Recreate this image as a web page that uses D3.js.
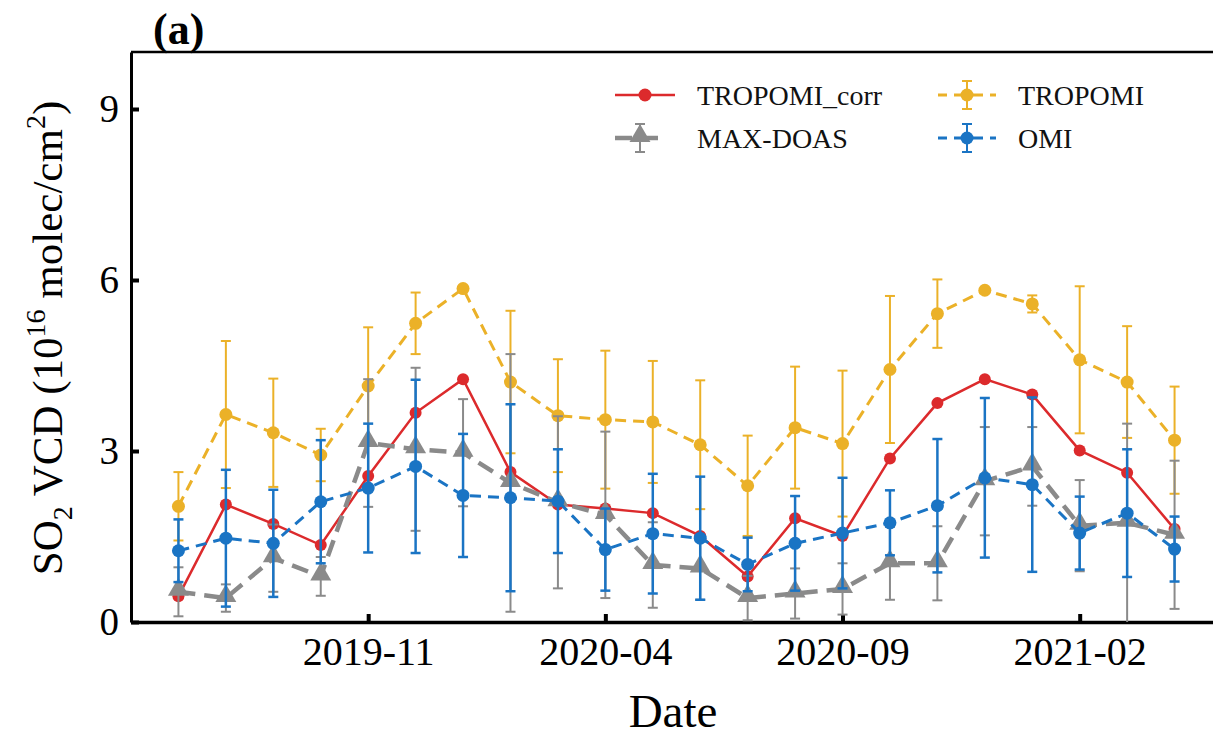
<!DOCTYPE html>
<html>
<head>
<meta charset="utf-8">
<script src="https://cdn.jsdelivr.net/npm/d3@7"></script>
<style>
  html, body { margin: 0; padding: 0; background: #fff; }
  svg { display: block; font-family: "Liberation Serif", "Times New Roman", serif; }
</style>
</head>
<body>
<svg id="chart" width="1213" height="744"></svg>
<script>
// ---------------- data ----------------
const months = ["2019-07","2019-08","2019-09","2019-10","2019-11","2019-12",
                "2020-01","2020-02","2020-03","2020-04","2020-05","2020-06",
                "2020-07","2020-08","2020-09","2020-10","2020-11","2020-12",
                "2021-01","2021-02","2021-03","2021-04"];
const xTickLabels = ["2019-11","2020-04","2020-09","2021-02"];
const yTickValues = [0, 3, 6, 9];

const tropomiCorr = [0.45,2.06,1.72,1.35,2.56,3.67,4.26,2.63,2.06,1.99,1.91,1.51,
                     0.80,1.82,1.51,2.87,3.84,4.26,3.99,3.01,2.62,1.63];

const tropomi     = [2.03,3.64,3.32,2.93,4.14,5.24,5.85,4.21,3.62,3.55,3.51,3.11,
                     2.39,3.41,3.13,4.43,5.41,5.82,5.58,4.60,4.21,3.19];
const tropomiErr  = [0.60,1.29,0.95,0.46,1.03,0.54,0.00,1.25,0.99,1.21,1.07,1.13,
                     0.88,1.07,1.28,1.29,0.60,0.00,0.15,1.29,0.98,0.94];

const maxdoas     = [0.53,0.42,1.12,0.80,3.14,3.03,2.97,2.44,2.10,1.88,1.00,0.94,
                     0.42,0.50,0.58,1.03,1.03,2.47,2.73,1.69,1.74,1.53];
const maxdoasErr  = [0.43,0.24,0.59,0.34,1.12,1.43,0.94,2.26,1.51,1.46,0.75,0.55,
                     0.39,0.44,0.45,0.64,0.65,0.95,0.69,0.80,1.74,1.30];

const omi         = [1.25,1.47,1.38,2.11,2.35,2.73,2.22,2.18,2.12,1.27,1.55,1.47,
                     1.01,1.38,1.56,1.74,2.04,2.53,2.41,1.56,1.91,1.28];
const omiErr      = [0.55,1.20,0.94,1.08,1.13,1.52,1.08,1.64,0.91,0.72,1.05,1.08,
                     0.47,0.83,0.97,0.57,1.17,1.40,1.53,0.64,1.12,0.57];

const seriesNames = ["TROPOMI_corr","TROPOMI","MAX-DOAS","OMI"];

// ---------------- styles ----------------
const RED = "#dc2a2c", YEL = "#ebb128", GRY = "#8a8a8a", BLU = "#1a74c4";

const svg = d3.select("#chart");
const plotLeft = 131, plotBottom = 622, plotTop = 52, plotRight = 1222;

const x = d3.scalePoint().domain(months).range([plotLeft, plotRight]).padding(1);
const y = d3.scaleLinear().domain([0, 10]).range([plotBottom, plotTop]);

// ---------------- frame & axes ----------------
svg.append("line").attr("x1", plotLeft).attr("x2", 1213).attr("y1", plotTop).attr("y2", plotTop)
   .attr("stroke", "#000").attr("stroke-width", 2.5);

const xAxis = d3.axisBottom(x).tickValues(xTickLabels).tickSizeInner(-8).tickSizeOuter(0).tickPadding(15);
const gx = svg.append("g").attr("transform", `translate(0,${plotBottom})`).call(xAxis);
gx.select(".domain").attr("stroke-width", 3.5);
gx.selectAll(".tick line").attr("stroke-width", 4);
gx.selectAll(".tick text").attr("font-size", 40).attr("font-family", "Liberation Serif").attr("fill", "#000");

const yAxis = d3.axisLeft(y).tickValues(yTickValues).tickSizeInner(-8).tickSizeOuter(0).tickPadding(12);
const gy = svg.append("g").attr("transform", `translate(${plotLeft},0)`).call(yAxis);
gy.select(".domain").attr("stroke-width", 3);
gy.selectAll(".tick line").attr("stroke-width", 4);
gy.selectAll(".tick text").attr("font-size", 39).attr("font-family", "Liberation Serif").attr("fill", "#000");

// ---------------- series drawing helpers ----------------
const line = d3.line().x((d, i) => x(months[i])).y(d => y(d));

function errorBars(vals, errs, color, width) {
  const g = svg.append("g").attr("stroke", color).attr("stroke-width", width);
  vals.forEach((v, i) => {
    if (!errs[i]) return;
    const cx = x(months[i]);
    const y1 = y(v + errs[i]), y0 = y(Math.max(v - errs[i], 0));
    g.append("line").attr("x1", cx).attr("x2", cx).attr("y1", y1).attr("y2", y0);
    g.append("line").attr("x1", cx - 5).attr("x2", cx + 5).attr("y1", y1).attr("y2", y1);
    if (v - errs[i] > 0)
      g.append("line").attr("x1", cx - 5).attr("x2", cx + 5).attr("y1", y0).attr("y2", y0);
  });
}
function circles(vals, color, r) {
  svg.append("g").selectAll("circle").data(vals).join("circle")
    .attr("cx", (d, i) => x(months[i])).attr("cy", d => y(d)).attr("r", r).attr("fill", color);
}
const tri = d3.symbol().type(d3.symbolTriangle).size(190);

// TROPOMI_corr (red, solid)
svg.append("path").datum(tropomiCorr).attr("d", line).attr("fill", "none")
   .attr("stroke", RED).attr("stroke-width", 2.5);
circles(tropomiCorr, RED, 6);

// TROPOMI (yellow, dashed)
errorBars(tropomi, tropomiErr, YEL, 2);
svg.append("path").datum(tropomi).attr("d", line).attr("fill", "none")
   .attr("stroke", YEL).attr("stroke-width", 3).attr("stroke-dasharray", "11,7");
circles(tropomi, YEL, 6.5);

// MAX-DOAS (gray, long dash, triangles)
errorBars(maxdoas, maxdoasErr, GRY, 2);
svg.append("path").datum(maxdoas).attr("d", line).attr("fill", "none")
   .attr("stroke", GRY).attr("stroke-width", 4.5).attr("stroke-dasharray", "17,9");
svg.append("g").selectAll("path").data(maxdoas).join("path")
   .attr("d", tri).attr("fill", GRY)
   .attr("transform", (d, i) => `translate(${x(months[i])},${y(d) - 2})`);

// OMI (blue, dashed)
errorBars(omi, omiErr, BLU, 2.5);
svg.append("path").datum(omi).attr("d", line).attr("fill", "none")
   .attr("stroke", BLU).attr("stroke-width", 3).attr("stroke-dasharray", "11,7");
circles(omi, BLU, 6.5);

// ---------------- legend ----------------
const legendItems = [
  { name: seriesNames[0], color: RED, x: 615, y: 95, dash: null, w: 2.5, err: false, shape: "circle", tx: 697, len: 60 },
  { name: seriesNames[1], color: YEL, x: 938, y: 95, dash: "11,7", w: 3, err: true, shape: "circle", tx: 1018, len: 58 },
  { name: seriesNames[2], color: GRY, x: 615, y: 138, dash: "17,9", w: 4.5, err: true, shape: "tri", tx: 697, len: 50 },
  { name: seriesNames[3], color: BLU, x: 938, y: 138, dash: "11,7", w: 3, err: true, shape: "circle", tx: 1018, len: 58 }
];
legendItems.forEach(it => {
  const g = svg.append("g");
  const cx = it.x + it.len / 2;
  if (it.err) {
    g.append("line").attr("x1", cx).attr("x2", cx).attr("y1", it.y - 14).attr("y2", it.y + 14)
     .attr("stroke", it.color).attr("stroke-width", 2);
    g.append("line").attr("x1", cx - 5).attr("x2", cx + 5).attr("y1", it.y - 14).attr("y2", it.y - 14)
     .attr("stroke", it.color).attr("stroke-width", 2);
    g.append("line").attr("x1", cx - 5).attr("x2", cx + 5).attr("y1", it.y + 14).attr("y2", it.y + 14)
     .attr("stroke", it.color).attr("stroke-width", 2);
  }
  const ln = g.append("line").attr("x1", it.x).attr("x2", it.x + it.len).attr("y1", it.y).attr("y2", it.y)
     .attr("stroke", it.color).attr("stroke-width", it.w);
  if (it.dash) ln.attr("stroke-dasharray", it.dash).attr("stroke-dashoffset", it.len === 50 ? 0 : 2);
  if (it.shape === "circle") g.append("circle").attr("cx", cx).attr("cy", it.y).attr("r", 6.5).attr("fill", it.color);
  else g.append("path").attr("d", tri).attr("fill", it.color).attr("transform", `translate(${cx},${it.y - 2})`);
  g.append("text").attr("x", it.tx).attr("y", it.y).attr("dy", "0.35em")
   .attr("font-size", 28).attr("fill", "#111").text(it.name);
});

// ---------------- labels ----------------
svg.append("text").attr("x", 153).attr("y", 44).attr("font-size", 44).attr("font-weight", "bold")
   .text("(a)");

svg.append("text").attr("x", 673).attr("y", 727).attr("text-anchor", "middle")
   .attr("font-size", 47).text("Date");

const yl = svg.append("text").attr("transform", "translate(62,338) rotate(-90)")
   .attr("text-anchor", "middle").attr("font-size", 43);
yl.append("tspan").text("SO");
yl.append("tspan").attr("dy", 10).attr("font-size", 28).text("2");
yl.append("tspan").attr("dy", -10).text(" VCD (10");
yl.append("tspan").attr("dy", -17).attr("font-size", 28).text("16");
yl.append("tspan").attr("dy", 17).text(" molec/cm");
yl.append("tspan").attr("dy", -17).attr("font-size", 28).text("2");
yl.append("tspan").attr("dy", 17).text(")");
</script>
</body>
</html>
